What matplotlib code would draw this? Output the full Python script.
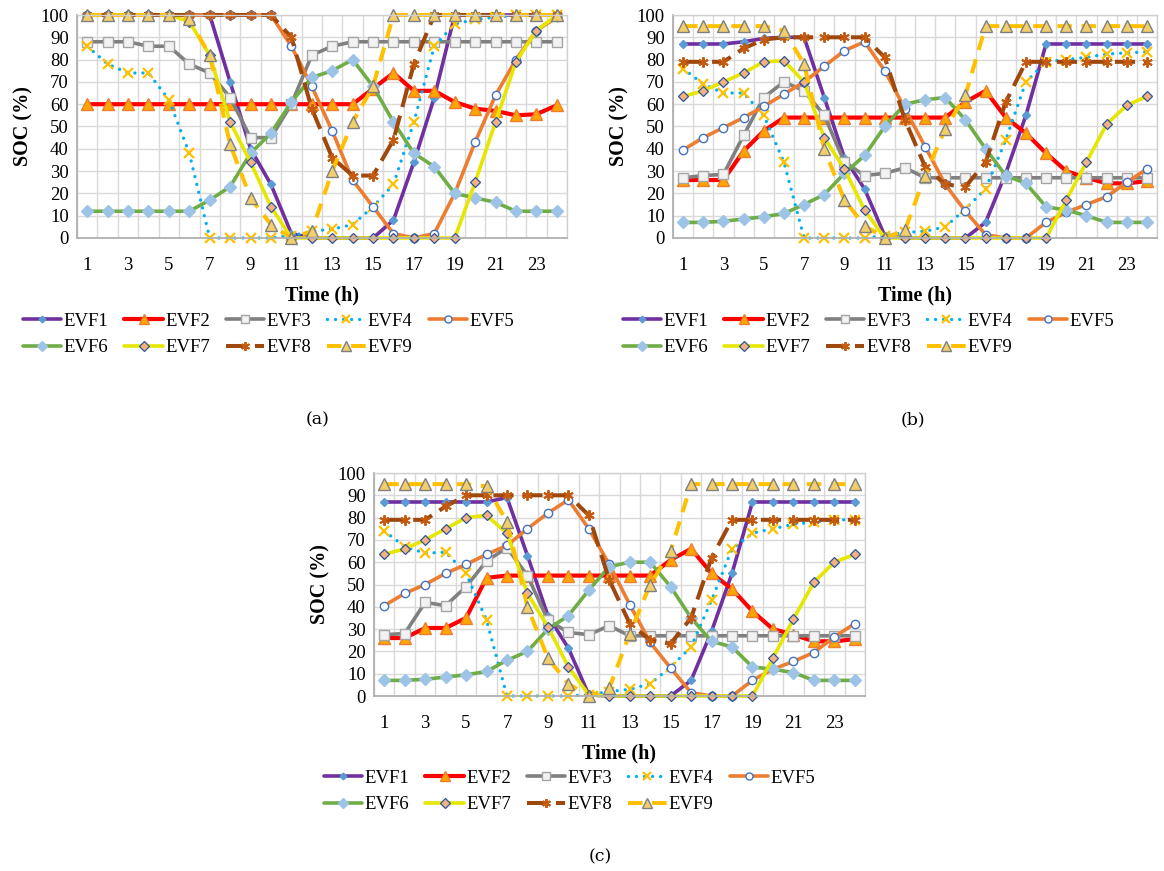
import matplotlib
matplotlib.use("Agg")
import matplotlib.pyplot as plt

# ---------------- data ----------------
hours = list(range(1, 25))
x_tick_labels = [str(h) for h in range(1, 24, 2)]
y_ticks = list(range(0, 101, 10))
series_names = ["EVF1", "EVF2", "EVF3", "EVF4", "EVF5", "EVF6", "EVF7", "EVF8", "EVF9"]
panel_labels = ["(a)", "(b)", "(c)"]

# panel (a)
evf1_a = [100, 100, 100, 100, 100, 100, 100, 70, 40, 24, 2, 0, 0, 0, 0, 8, 34, 63, 100, 100, 100, 100, 100, 100]
evf2_a = [60, 60, 60, 60, 60, 60, 60, 60, 60, 60, 60, 60, 60, 60, 67, 74, 66, 66, 61, 58, 57, 55, 55.5, 59.5]
evf3_a = [88, 88, 88, 86, 86, 78, 74, 63, 45, 45, 60, 82, 86, 88, 88, 88, 88, 88, 88, 88, 88, 88, 88, 88]
evf4_a = [86, 78, 74, 74, 62, 38, 0, 0, 0, 0, 1, 3, 4, 6, 14, 24, 52, 86, 96, 98, 99, 100, 100, 100]
evf5_a = [100, 100, 100, 100, 100, 100, 100, 100, 100, 100, 86, 68, 48, 26, 14, 2, 0, 2, 20, 43, 64, 80, 93, 99]
evf6_a = [12, 12, 12, 12, 12, 12, 17, 23, 38, 47, 61, 72, 75, 80, 68, 52, 38, 32, 20, 18, 16, 12, 12, 12]
evf7_a = [100, 100, 100, 100, 100, 97, 82, 52, 34, 14, 0, 0, 0, 0, 0, 0, 0, 0, 0, 25, 52, 79, 93, 100]
evf8_a = [100, 100, 100, 100, 100, 100, 100, 100, 100, 100, 90, 58, 36, 28, 28, 44, 78, 100, 100, 100, 100, 100, 100, 100]
evf9_a = [100, 100, 100, 100, 100, 98, 82, 42, 18, 6, 0, 3, 30, 52, 68, 100, 100, 100, 100, 100, 100, 100, 100, 100]

# panel (b)
evf1_b = [87, 87, 87, 88, 89.5, 90, 90, 63, 36, 22, 1, 0, 0, 0, 0, 7, 29, 55, 87, 87, 87, 87, 87, 87]
evf2_b = [26, 26, 26, 39, 48, 54, 54, 54, 54, 54, 54, 54, 54, 54, 61, 66, 54, 47, 38, 30, 27, 24.5, 24.5, 25.5]
evf3_b = [27, 28, 28.5, 46, 63, 70, 66, 55, 34, 28, 29, 31.5, 27, 27, 27, 27, 27, 27, 27, 27, 27, 27, 27, 27]
evf4_b = [76, 69, 65, 65, 55, 34, 0, 0, 0, 0, 1, 2.5, 3, 5, 13, 22, 44, 70, 79, 80, 81, 82.5, 83, 83.5]
evf5_b = [39.5, 45, 49.5, 54, 59, 64.5, 70, 77, 84, 88, 75, 58, 41, 24, 12, 1.5, 0, 0, 7, 11.5, 15, 18.5, 25, 31]
evf6_b = [7, 7, 7.5, 8.5, 9.5, 11, 15, 19.5, 29, 37, 50, 60, 62, 63, 53, 40, 28, 24.5, 14, 12.5, 10, 7, 7, 7]
evf7_b = [63.5, 66, 70, 74, 79, 79.5, 70, 45, 31, 12.5, 0, 0, 0, 0, 0, 0, 0, 0, 0, 17, 34, 51, 59.5, 63.5]
evf8_b = [79, 79, 79, 85, 89, 90, 90, 90, 90, 90, 81, 53, 32, 24, 23, 34, 61, 79, 79, 79, 79, 79, 79, 79]
evf9_b = [95, 95, 95, 95, 95, 93, 78, 40, 17, 5.5, 0, 3.5, 28, 49, 64, 95, 95, 95, 95, 95, 95, 95, 95, 95]

# panel (c)
evf1_c = [87, 87, 87, 87, 87, 87, 89, 63, 36, 21.5, 0.5, 0, 0, 0, 0, 7, 29, 55, 87, 87, 87, 87, 87, 87]
evf2_c = [26, 26, 30.5, 30.5, 35, 53, 54, 54, 54, 54, 54, 54, 54, 54, 61, 66, 55, 48, 38, 30, 27.5, 24.5, 24.5, 25.5]
evf3_c = [27.5, 28, 42, 40.5, 49, 60.5, 66.5, 54, 34, 28.5, 27.5, 31.5, 27, 27, 27, 27, 27, 27, 27, 27, 27, 27, 27, 27]
evf4_c = [74, 67, 64, 64.5, 55, 34, 0, 0, 0, 0, 0.5, 2, 3, 5.5, 13, 22, 43, 66, 73, 75, 77, 78, 79, 79]
evf5_c = [40.5, 46, 50, 55, 59, 63.5, 67.5, 75, 82, 88, 75, 59, 41, 24, 12.5, 1.5, 0, 0, 7, 12, 15.5, 19.5, 26.5, 32.5]
evf6_c = [7, 7, 7.5, 8.5, 9.5, 11, 16, 20, 30, 36, 47.5, 58, 60, 60, 49, 35, 24.5, 22, 13, 12, 10.5, 7, 7, 7]
evf7_c = [63.5, 66, 70, 75, 80, 81, 73, 46, 31, 13, 0.5, 0, 0, 0, 0, 0, 0, 0, 0, 17, 34.5, 51, 60, 63.5]
evf8_c = [79, 79, 79, 85, 90, 90, 90, 90, 90, 90, 81, 52, 32.5, 25, 23.5, 35, 62, 79, 79, 79, 79, 79, 79, 79]
evf9_c = [95, 95, 95, 95, 95, 94, 78, 40, 17, 5.5, 0, 3.5, 28, 50, 65, 95, 95, 95, 95, 95, 95, 95, 95, 95]

panels = [
    [evf1_a, evf2_a, evf3_a, evf4_a, evf5_a, evf6_a, evf7_a, evf8_a, evf9_a],
    [evf1_b, evf2_b, evf3_b, evf4_b, evf5_b, evf6_b, evf7_b, evf8_b, evf9_b],
    [evf1_c, evf2_c, evf3_c, evf4_c, evf5_c, evf6_c, evf7_c, evf8_c, evf9_c],
]

# ---------------- styles ----------------
LW = 2.6
styles = [
    dict(color="#7030A0", lw=LW, ls="-", marker="D", ms=4.0, mfc="#5B9BD5", mec="#5B9BD5"),
    dict(color="#FF0000", lw=LW + 0.4, ls="-", marker="^", ms=8.0, mfc="#FFA500", mec="#ED7D31"),
    dict(color="#808080", lw=LW, ls="-", marker="s", ms=7.0, mfc="#F2F2F2", mec="#A5A5A5"),
    dict(color="#00B0F0", lw=2.4, ls=(0, (0.01, 2.4)), marker="x", ms=7, mfc="none", mec="#FFC000", mew=1.6,
         dash_capstyle="round"),
    dict(color="#ED7D31", lw=LW, ls="-", marker="o", ms=6.0, mfc="white", mec="#4472C4", mew=1.0),
    dict(color="#70AD47", lw=LW, ls="-", marker="D", ms=6.0, mfc="#9DC3E6", mec="#9DC3E6"),
    dict(color="#E6E600", lw=LW, ls="-", marker="D", ms=5.5, mfc="#F4B183", mec="#2F5597", mew=0.9),
    dict(color="#9E480E", lw=LW + 0.3, ls=(0, (5, 2.2)), marker=(6, 2, 0), ms=7.5, mfc="none", mec="#C55A11", mew=1.4),
    dict(color="#FFC000", lw=LW + 0.3, ls=(0, (3.6, 2.4)), marker="^", ms=8.0, mfc="#F2CF6B", mec="#7F7F7F", mew=1.0),
]

plt.rcParams["font.family"] = ["Liberation Serif", "DejaVu Serif"]

W, H = 1164, 871
fig = plt.figure(figsize=(W / 100, H / 100), dpi=100)

def px_axes(left, top, right, bottom):
    return fig.add_axes([left / W, 1 - bottom / H, (right - left) / W, (bottom - top) / H])

axes_px = [(77, 15, 567, 238), (673, 15, 1157, 238), (374, 473, 865, 696)]
legend_px = [(23, 334.5), (623, 334.5), (324, 791.5)]
caption_px = [(318, 420), (913, 420), (600, 857)]

for p, (data, box, lpos, cpos) in enumerate(zip(panels, axes_px, legend_px, caption_px)):
    ax = px_axes(*box)
    handles = []
    for name, vals, st in zip(series_names, data, styles):
        st = dict(st)
        capstyle = st.pop("dash_capstyle", "butt")
        ln, = ax.plot(hours, vals, color=st["color"], lw=st["lw"], ls=st["ls"], marker=st["marker"],
                      ms=st["ms"], mfc=st["mfc"], mec=st["mec"], mew=st.get("mew", 1.0),
                      dash_capstyle=capstyle, solid_capstyle="round", solid_joinstyle="round",
                      label=name, clip_on=False)
        handles.append(ln)
    ax.set_xlim(0.5, 24.5)
    ax.set_ylim(0, 100)
    ax.set_xticks(list(range(1, 24, 2)))
    ax.set_xticklabels(x_tick_labels)
    ax.set_xticks([i + 0.5 for i in range(0, 25)], minor=True)
    ax.set_yticks(y_ticks)
    ax.tick_params(axis="both", which="both", length=0, labelsize=13.5)
    ax.tick_params(axis="x", pad=14)
    ax.tick_params(axis="y", pad=6)
    ax.grid(which="minor", axis="x", color="#D9D9D9", lw=1.0)
    ax.grid(which="major", axis="y", color="#D9D9D9", lw=1.0)
    ax.grid(which="major", axis="x", visible=False)
    ax.set_axisbelow(True)
    for s in ["top", "right"]:
        ax.spines[s].set_color("#D0D0D0")
        ax.spines[s].set_linewidth(1.0)
    for s in ["left", "bottom"]:
        ax.spines[s].set_color("#B0B0B0")
        ax.spines[s].set_linewidth(1.3)
    ax.set_xlabel("Time (h)", fontsize=14.5, fontweight="bold", labelpad=8)
    ax.set_ylabel("SOC (%)", fontsize=14.5, fontweight="bold", labelpad=5)

    order = [0, 5, 1, 6, 2, 7, 3, 8, 4]
    fig.legend([handles[i] for i in order], [series_names[i] for i in order],
               loc="center left", bbox_to_anchor=(lpos[0] / W, 1 - lpos[1] / H),
               ncol=5, frameon=False, fontsize=13.5, handlelength=2.05, handletextpad=0.12,
               columnspacing=0.85, labelspacing=0.5, borderpad=0, borderaxespad=0,
               markerscale=0.85)
    fig.text(cpos[0] / W, 1 - cpos[1] / H, panel_labels[p], ha="center", va="center",
             fontsize=12.5, family=["DejaVu Serif"])

fig.savefig("out.png", dpi=100)
